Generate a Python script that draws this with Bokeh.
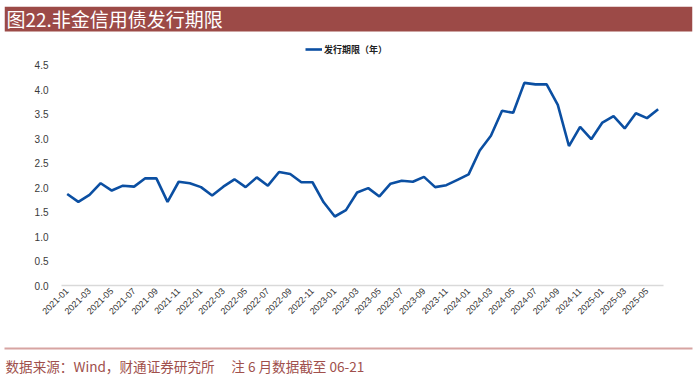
from math import pi
from bokeh.plotting import figure
from bokeh.models import (Range1d, FixedTicker, Legend, LegendItem, BoxAnnotation,
                          Label, LinearAxis, Title)
from bokeh.embed import file_html
from bokeh.resources import INLINE

# ---- data ----
title_text = "图22.非金信用债发行期限"
series_name = "发行期限（年）"
footer_text = "数据来源：Wind，财通证券研究所\u3000\u00a0注 6 月数据截至 06-21"

months = [f"{y}-{m:02d}" for y in range(2021, 2026) for m in range(1, 13)][:54]
tenor = [
    1.87, 1.71, 1.85, 2.09, 1.94, 2.04, 2.02, 2.19, 2.19, 1.71, 2.12, 2.09,   # 2021
    2.01, 1.84, 2.02, 2.17, 2.01, 2.21, 2.04, 2.32, 2.28, 2.11, 2.11, 1.70,   # 2022
    1.41, 1.54, 1.90, 1.99, 1.82, 2.08, 2.14, 2.12, 2.22, 2.01, 2.05, 2.16,   # 2023
    2.27, 2.76, 3.06, 3.57, 3.53, 4.14, 4.11, 4.11, 3.69, 2.85, 3.24, 2.99,   # 2024
    3.33, 3.46, 3.21, 3.52, 3.42, 3.60,                                       # 2025
]
y_ticks = [0.0, 0.5, 1.0, 1.5, 2.0, 2.5, 3.0, 3.5, 4.0, 4.5]

# ---- layout geometry (pixels) ----
W, H = 700, 380
F_LEFT, F_RIGHT, F_TOP, F_BOTTOM = 4, 692, 6, 286     # frame box on the canvas
Y45_PX = 65                                           # pixel row of the 4.5 tick
X0_PX, XSTEP = 66.7, 11.15                            # first point, month spacing
PXU = (F_BOTTOM - Y45_PX) / 4.5
Y_TOP = 4.5 + (Y45_PX - F_TOP) / PXU
X_START = -(X0_PX - F_LEFT) / XSTEP
X_END = (F_RIGHT - X0_PX) / XSTEP

CJK = "Noto Sans CJK SC"
RED = "#9C4A47"

idx = list(range(len(months)))
p = figure(width=W, height=H, x_range=Range1d(X_START, X_END),
           y_range=Range1d(0, Y_TOP), output_backend="svg", toolbar_location=None,
           min_border_left=F_LEFT, min_border_right=W - F_RIGHT,
           min_border_top=F_TOP, min_border_bottom=H - F_BOTTOM)
p.outline_line_color = None
p.grid.visible = False
r = p.line(idx, tenor, line_color="#0B4FA2", line_width=2.6)

xa = p.xaxis[0]
xa.ticker = FixedTicker(ticks=idx[::2])
xa.major_label_overrides = {i: months[i] for i in idx[::2]}
xa.major_label_orientation = pi / 4
xa.bounds = (-0.5, len(months) - 0.5)
xa.axis_line_color = "#D9D9D9"
xa.axis_line_width = 1.5
xa.major_tick_line_color = None
xa.minor_tick_line_color = None
xa.major_tick_out = 0
xa.major_tick_in = 0
xa.minor_tick_out = 0
xa.major_label_text_font = "Liberation Sans"
xa.major_label_text_font_size = "9px"
xa.major_label_text_color = "#333333"
xa.major_label_standoff = 4
xa.axis_label = " "
xa.axis_label_text_font_size = "10px"
xa.axis_label_standoff = 14

ya = p.yaxis[0]
ya.ticker = FixedTicker(ticks=y_ticks)
ya.major_label_overrides = {v: f"{v:.1f}" for v in y_ticks}
ya.bounds = (0, 4.5)
ya.axis_line_color = None
ya.major_tick_line_color = None
ya.minor_tick_line_color = None
ya.major_tick_out = 0
ya.major_tick_in = 0
ya.minor_tick_out = 0
ya.major_label_text_font = "Liberation Sans"
ya.major_label_text_font_size = "10px"
ya.major_label_text_color = "#3A3A3A"
ya.major_label_standoff = -(48 - F_LEFT)

# legend inside the (tall) frame, above the plotting area
legend = Legend(items=[LegendItem(label=series_name, renderers=[r])],
                location=(305 - F_LEFT, F_BOTTOM - 57), orientation="horizontal",
                border_line_color=None, background_fill_alpha=0,
                padding=0, margin=0, spacing=0,
                glyph_width=17, glyph_height=14, label_height=14,
                label_standoff=2, label_text_font=CJK,
                label_text_font_size="9px", label_text_font_style="bold",
                label_text_color="#222222")
p.add_layout(legend, "center")

# title bar
p.add_layout(BoxAnnotation(left=X_START, right=X_END, top=Y_TOP, bottom=Y_TOP - 25 / PXU,
                           fill_color=RED, fill_alpha=1, line_color=None))
p.add_layout(Label(x=X_START + 2 / XSTEP, y=Y_TOP - 12.5 / PXU, text=title_text,
                   text_color="white", text_font=CJK, text_font_size="19px",
                   text_baseline="middle"))

# footer: thin rule (an unlabelled axis) and the source note
rule = LinearAxis(ticker=FixedTicker(ticks=[]), axis_line_color="#D7A4A2",
                  axis_line_width=2, major_tick_out=0, major_tick_in=0,
                  minor_tick_out=0, minor_tick_in=0, major_label_standoff=0)
p.add_layout(rule, "below")
p.add_layout(Title(text=footer_text, align="left", offset=1, standoff=10,
                   text_color="#A0504C", text_font=CJK, text_font_size="13.6px",
                   text_font_style="normal"), "below")

open("out.html", "w").write(file_html(p, INLINE))
